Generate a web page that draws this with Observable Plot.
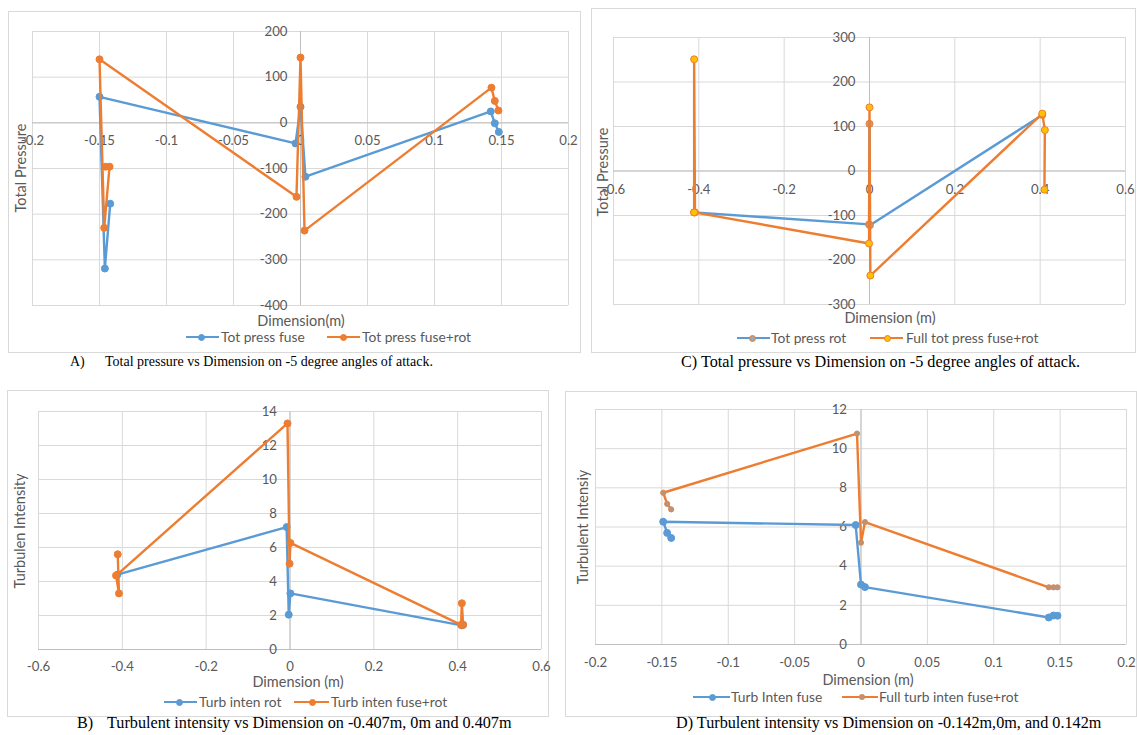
<!DOCTYPE html>
<html><head><meta charset="utf-8">
<script src="https://cdn.jsdelivr.net/npm/d3@7"></script>
<script src="https://cdn.jsdelivr.net/npm/@observablehq/plot@0.6"></script>
<style>
body{margin:0;background:#fff;}
#root{position:relative;width:1137px;height:735px;overflow:hidden;font-family:Lato,"Open Sans",sans-serif;background:#fff;}
.box{position:absolute;border:1px solid #d9d9d9;box-sizing:border-box;}
.abs{position:absolute;white-space:nowrap;line-height:1;}
.ttl{color:#595959;font-size:14.5px;}
.leg{color:#595959;font-size:13.8px;}
.cap{font-family:"Liberation Serif","Times New Roman",serif;font-size:16.2px;color:#000;}
svg{position:absolute;overflow:visible;}
</style></head><body><div id="root"></div>
<script>
const BLUE="#5B9BD5", ORANGE="#ED7D31", GRAY="#A5A5A5", GOLD="#FFC000";

// ---- Panel A: Total pressure (fuse / fuse+rot), -0.142..0.142 m
const aXTicks=[-0.2,-0.15,-0.1,-0.05,0,0.05,0.1,0.15,0.2];
const aYTicks=[-400,-300,-200,-100,0,100,200];
const aFuseX=[-0.142,-0.146,-0.15,-0.0037,0,0.0037,0.142,0.145,0.148];
const aFuseY=[-177,-319,57,-45,35,-118,25,-1,-20];
const aRotX=[-0.1455,-0.1425,-0.1465,-0.15,-0.003,0,0.003,0.1425,0.145,0.1477];
const aRotY=[-96,-96,-230,139,-162,143,-236,77,48,27];

// ---- Panel C: Total pressure (rot / full), -0.407..0.407 m
const cXTicks=[-0.6,-0.4,-0.2,0,0.2,0.4,0.6];
const cYTicks=[-300,-200,-100,0,100,200,300];
const cRotX=[-0.411,-0.001,0,0.001,0.405];
const cRotY=[-93,-120,106,-122,126];
const cFullX=[-0.409,-0.411,-0.411,-0.001,0,0.002,0.405,0.411,0.41];
const cFullY=[-93,251,-93,-163,143,-235,129,92,-42];

// ---- Panel B: Turbulent intensity (rot / fuse+rot)
const bXTicks=[-0.6,-0.4,-0.2,0,0.2,0.4,0.6];
const bYTicks=[0,2,4,6,8,10,12,14];
const bRotX=[-0.412,-0.008,-0.003,0.001,0.41,0.413];
const bRotY=[4.4,7.2,2.05,3.3,1.42,1.45];
const bFullX=[-0.411,-0.408,-0.415,-0.006,-0.001,0.001,0.408,0.41,0.413];
const bFullY=[5.6,3.3,4.35,13.3,5.05,6.27,1.45,2.72,1.45];

// ---- Panel D: Turbulent intensity (fuse / full)
const dXTicks=[-0.2,-0.15,-0.1,-0.05,0,0.05,0.1,0.15,0.2];
const dYTicks=[0,2,4,6,8,10,12];
const dFuseX=[-0.143,-0.146,-0.149,-0.004,0,0.003,0.1415,0.145,0.148];
const dFuseY=[5.44,5.7,6.27,6.1,3.06,2.93,1.38,1.48,1.47];
const dFullX=[-0.143,-0.146,-0.149,-0.003,0,0.003,0.1415,0.145,0.148];
const dFullY=[6.9,7.18,7.75,10.77,5.2,6.25,2.92,2.92,2.92];

const root=document.getElementById("root");
const pts=(xs,ys)=>xs.map((x,i)=>({x,y:ys[i]}));

function addDiv(cls,css,html){
  const d=document.createElement("div");
  d.className=cls; d.style.cssText=css; if(html!==undefined) d.innerHTML=html;
  root.appendChild(d); return d;
}

function panel(c){
  addDiv("box",`left:${c.box[0]}px;top:${c.box[1]}px;width:${c.box[2]}px;height:${c.box[3]}px;`);
  const [bl,bt,bw,bh]=c.box;
  const [px0,py0,px1,py1]=c.area;
  const marks=[
    Plot.ruleX(c.xTicks,{stroke:"#d9d9d9",strokeWidth:1}),
    Plot.ruleY(c.yTicks,{stroke:"#d9d9d9",strokeWidth:1}),
    Plot.ruleX([0],{stroke:"#bfbfbf",strokeWidth:1}),
    Plot.ruleY([0],{stroke:"#bfbfbf",strokeWidth:1}),
    Plot.text(c.xTicks,{x:d=>d,y:()=>c.xLabelAt,dy:c.xdy,text:d=>String(d),fill:"#595959",fontSize:13.2}),
    Plot.text(c.yTicks,{x:()=>0,y:d=>d,dx:c.ydx,textAnchor:"end",text:d=>String(d),fill:"#595959",fontSize:13.2})
  ];
  for(const s of c.series){
    const data=pts(s.x,s.y);
    marks.push(Plot.line(data,{x:"x",y:"y",stroke:s.color,strokeWidth:2.4,strokeLinejoin:"round"}));
    marks.push(Plot.dot(data,{x:"x",y:"y",r:s.r,fill:s.fill,stroke:s.mstroke||s.fill,strokeWidth:1}));
  }
  const svg=Plot.plot({
    width:bw,height:bh,
    marginLeft:px0-bl,marginTop:py0-bt,marginRight:bl+bw-px1,marginBottom:bt+bh-py1,
    x:{domain:c.xDomain,axis:null},y:{domain:c.yDomain,axis:null},
    style:{fontFamily:"Lato, 'Open Sans', sans-serif",background:"transparent",overflow:"visible"},
    marks
  });
  svg.style.left=bl+"px"; svg.style.top=bt+"px";
  root.appendChild(svg);
  addDiv("abs ttl",`left:${c.xTitle[1]}px;top:${c.xTitle[2]}px;transform:translate(-50%,-50%);`,c.xTitle[0]);
  addDiv("abs ttl",`left:${c.yTitle[1]}px;top:${c.yTitle[2]}px;transform:translate(-50%,-50%) rotate(-90deg);`,c.yTitle[0]);
  for(const L of c.legend){
    const [x1,x2,y,dotx,tx,color,fill,mstroke,r,label]=L;
    addDiv("abs",`left:${x1}px;top:${y-1.2}px;width:${x2-x1}px;height:2.4px;background:${color};`);
    addDiv("abs",`left:${dotx-r}px;top:${y-r}px;width:${2*r}px;height:${2*r}px;border-radius:50%;background:${fill};box-sizing:border-box;border:1px solid ${mstroke};`);
    addDiv("abs leg",`left:${tx}px;top:${y}px;transform:translateY(-50%);`,label);
  }
  for(const cp of c.caption){
    addDiv("abs cap",`left:${cp[1]}px;top:${cp[2]}px;transform:translateY(-50%);${cp[3]||""}`,cp[0]);
  }
}

panel({
  box:[8,11,573,342], area:[32,31,568,305],
  xDomain:[-0.2,0.2], yDomain:[-400,200], xTicks:aXTicks, yTicks:aYTicks,
  xLabelAt:0, xdy:18, ydx:-13,
  series:[
    {x:aFuseX,y:aFuseY,color:BLUE,fill:BLUE,r:3.5},
    {x:aRotX,y:aRotY,color:ORANGE,fill:ORANGE,r:3.5}
  ],
  xTitle:["Dimension(m)",301,321], yTitle:["Total Pressure",21,168],
  legend:[
    [186,219,337,201,221,BLUE,BLUE,BLUE,3.5,"Tot press fuse"],
    [327,360,337,343,362,ORANGE,ORANGE,ORANGE,3.5,"Tot press fuse+rot"]
  ],
  caption:[["A)",70,362,"font-size:14px;"],["Total pressure vs Dimension on -5 degree angles of attack.",105,362,"font-size:14px;"]]
});

panel({
  box:[591,8,545,345], area:[613,37,1125,304],
  xDomain:[-0.6,0.6], yDomain:[-300,300], xTicks:cXTicks, yTicks:cYTicks,
  xLabelAt:0, xdy:19, ydx:-14,
  series:[
    {x:cRotX,y:cRotY,color:BLUE,fill:GRAY,mstroke:ORANGE,r:3.5},
    {x:cFullX,y:cFullY,color:ORANGE,fill:GOLD,mstroke:ORANGE,r:3.5}
  ],
  xTitle:["Dimension (m)",890,318], yTitle:["Total Pressure",603,172],
  legend:[
    [737,770,338,752,771,BLUE,GRAY,ORANGE,3.5,"Tot press rot"],
    [870,903,338,887,906,ORANGE,GOLD,ORANGE,3.5,"Full tot press fuse+rot"]
  ],
  caption:[["C) Total pressure vs Dimension on -5 degree angles of attack.",681,362]]
});

panel({
  box:[7,390,542,327], area:[38,411,541,649],
  xDomain:[-0.6,0.6], yDomain:[0,14], xTicks:bXTicks, yTicks:bYTicks,
  xLabelAt:0, xdy:17.5, ydx:-13,
  series:[
    {x:bRotX,y:bRotY,color:BLUE,fill:BLUE,r:3.5},
    {x:bFullX,y:bFullY,color:ORANGE,fill:ORANGE,r:3.5}
  ],
  xTitle:["Dimension (m)",298,682], yTitle:["Turbulen Intensity",20,531],
  legend:[
    [164,197,702,179,199,BLUE,BLUE,BLUE,3.5,"Turb inten rot"],
    [294,329,702,312,331,ORANGE,ORANGE,ORANGE,3.5,"Turb inten fuse+rot"]
  ],
  caption:[["B)",77,723],["Turbulent intensity vs Dimension on -0.407m, 0m and 0.407m",107,723]]
});

panel({
  box:[565,391,572,326], area:[595,409,1126,644],
  xDomain:[-0.2,0.2], yDomain:[0,12], xTicks:dXTicks, yTicks:dYTicks,
  xLabelAt:0, xdy:18, ydx:-14,
  series:[
    {x:dFuseX,y:dFuseY,color:BLUE,fill:BLUE,r:3.5},
    {x:dFullX,y:dFullY,color:ORANGE,fill:"#B9937A",mstroke:"#D88A55",r:2.6}
  ],
  xTitle:["Dimension (m)",868,680], yTitle:["Turbulent Intensiy",583,527],
  legend:[
    [693,730,697,712,731,BLUE,BLUE,BLUE,3.5,"Turb Inten fuse"],
    [842,878,697,862,879,ORANGE,"#B9937A","#D88A55",2.6,"Full turb inten fuse+rot"]
  ],
  caption:[["D) Turbulent intensity vs Dimension on -0.142m,0m, and 0.142m",676,723]]
});
</script></body></html>
